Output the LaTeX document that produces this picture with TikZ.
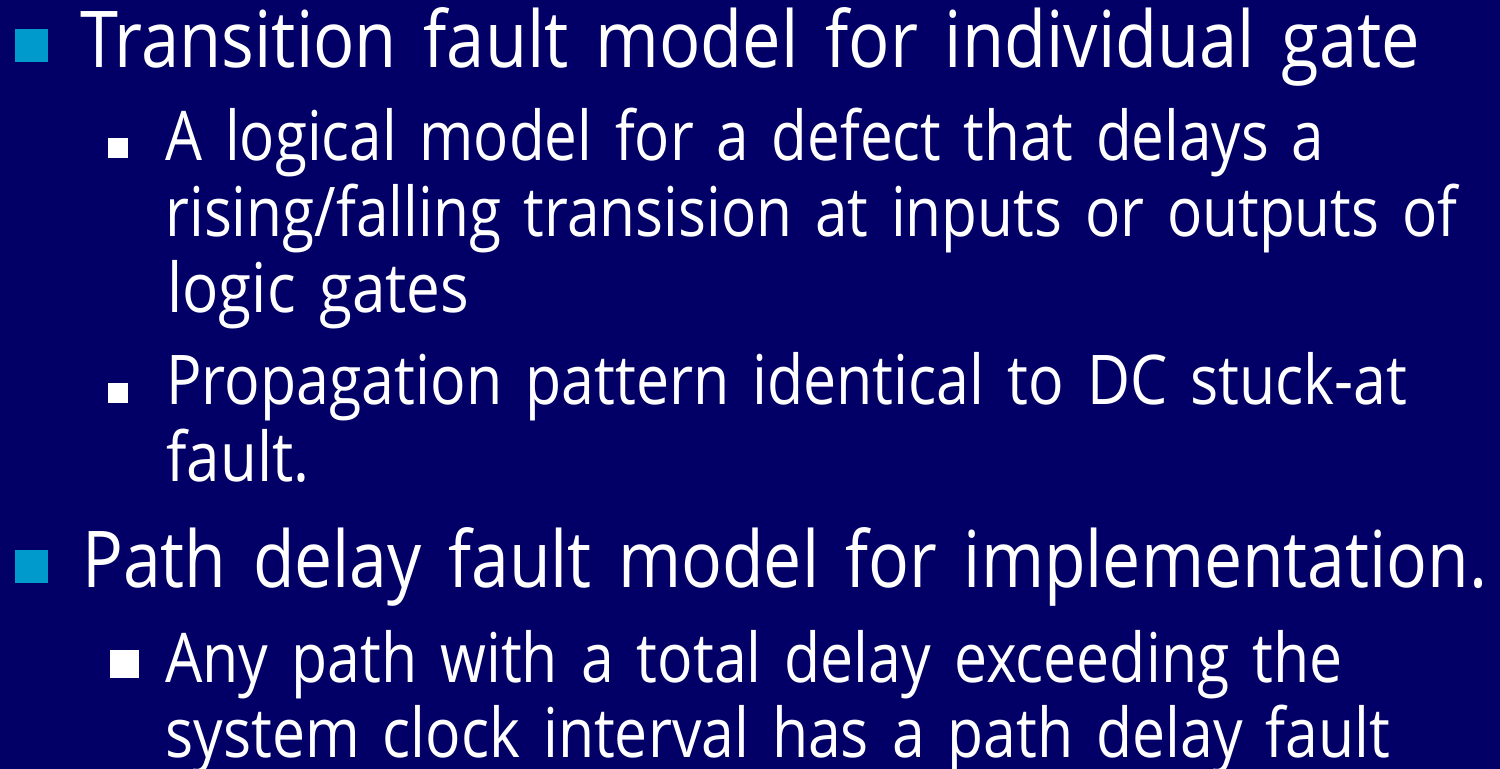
\documentclass[tikz,border=0pt]{standalone}
\usepackage{graphicx}
\usepackage{fontspec}
\setmainfont[WordSpace=1.5]{Open Sans}
\definecolor{slidebg}{RGB}{2,0,102}
\definecolor{bulcyan}{RGB}{0,154,205}
\newsavebox\linebox
\newdimen\lnwd
\newcommand\fitw[2]{\sbox\linebox{#2}\lnwd=\wd\linebox\pgfmathsetmacro\fx{0.5*#1/\lnwd}\scalebox{\fx}[1]{\usebox\linebox}}
\tikzset{
  lvlone/.style={anchor=base west, inner sep=0pt, text=white, font=\fontsize{39.2}{42}\selectfont},
  lvltwo/.style={anchor=base west, inner sep=0pt, text=white, font=\fontsize{34.3}{36}\selectfont},
  bulone/.style={fill=bulcyan, inner sep=0pt, minimum size=16.5pt},
  bultwo/.style={fill=white, inner sep=0pt, minimum size=10pt},
  bulthree/.style={fill=white, inner sep=0pt, minimum size=14.25pt}
}
\begin{document}
\begin{tikzpicture}[x=0.5pt,y=-0.5pt]
\useasboundingbox (0,0) rectangle (1500,769);
\clip (0,0) rectangle (1500,769);
\fill[slidebg] (0,0) rectangle (1500,769);
% level-1 bullets
\node[bulone] (b1) at (31.5,45.5) {};
\node[bulone] (b7) at (31.5,567) {};
% level-2 bullets
\node[bultwo] (b2) at (118,148) {};
\node[bultwo] (b5) at (118,393) {};
\node[bulthree] (b8) at (124.5,664) {};
% text lines
\node[lvlone] (t1) at (80,68) {\fitw{1340}{Transition fault model for individual gate}};
\node[lvltwo] (t2) at (165,161) {\fitw{1159}{A logical model for a defect that delays a}};
\node[lvltwo] (t3) at (165,237) {\fitw{1292}{rising/falling transision at inputs or outputs of}};
\node[lvltwo] (t4) at (167,313) {\fitw{302}{logic gates}};
\node[lvltwo] (t5) at (166,405) {\fitw{1241}{Propagation pattern identical to DC stuck-at}};
\node[lvltwo] (t6) at (166,482) {\fitw{143}{fault.}};
\node[lvlone] (t7) at (82,588) {\fitw{1405}{Path delay fault model for implementation.}};
\node[lvltwo] (t8) at (165,683) {\fitw{1177}{Any path with a total delay exceeding the}};
\node[lvltwo] (t9) at (165,758) {\fitw{1225}{system clock interval has a path delay fault}};
\end{tikzpicture}
\end{document}
